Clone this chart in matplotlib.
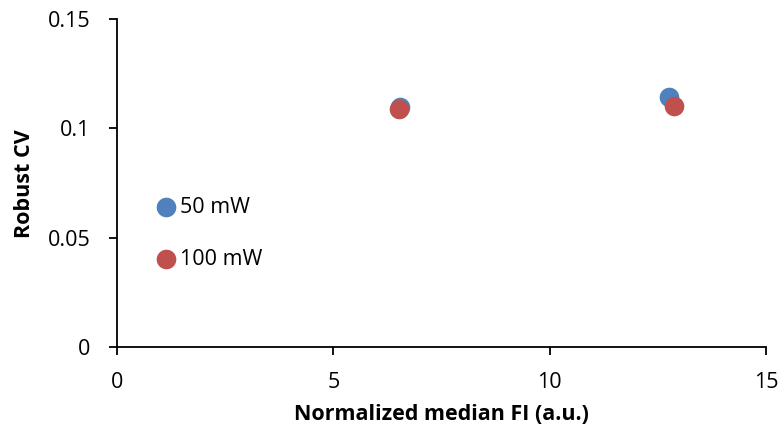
import matplotlib.pyplot as plt

plt.rcParams['font.family'] = ['Open Sans', 'DejaVu Sans']

# data
labels = ['50 mW', '100 mW']
colors = ['#4F81BD', '#C0504D']
fi_50 = [6.54, 12.76]
cv_50 = [0.1097, 0.1145]
fi_100 = [6.52, 12.88]
cv_100 = [0.1088, 0.1102]

xticks = [0, 5, 10, 15]
yticks = [0, 0.05, 0.1, 0.15]
yticklabels = ['0', '0.05', '0.1', '0.15']

fig = plt.figure(figsize=(7.82, 4.34), dpi=100)
ax = fig.add_axes([0.1496, 0.1998, 0.8299, 0.7562])

ax.scatter(fi_50, cv_50, s=200, color=colors[0], label=labels[0], zorder=3, linewidths=0)
ax.scatter(fi_100, cv_100, s=200, color=colors[1], label=labels[1], zorder=4, linewidths=0)

ax.set_xlim(0, 15)
ax.set_ylim(0, 0.15)
ax.set_xticks(xticks)
ax.set_yticks(yticks)
ax.set_yticklabels(yticklabels)
ax.spines['top'].set_visible(False)
ax.spines['right'].set_visible(False)
for s in ('left', 'bottom'):
    ax.spines[s].set_linewidth(1.3)
    ax.spines[s].set_color('black')
ax.tick_params(direction='out', length=6, width=1.3, labelsize=15.5)
ax.tick_params(axis='y', pad=13)
ax.tick_params(axis='x', pad=12)

ax.set_xlabel('Normalized median FI (a.u.)', fontsize=15.5, fontweight='bold', labelpad=8)
ax.set_ylabel('Robust CV', fontsize=15.5, fontweight='bold', labelpad=9)

ax.legend(loc='upper left', bbox_to_anchor=(144 / 782, 1 - 186 / 434),
          bbox_transform=fig.transFigure, frameon=False, fontsize=15.5,
          handlelength=1.0, handletextpad=0.15, labelspacing=1.45, borderpad=0)

fig.savefig('out.png', dpi=100)
